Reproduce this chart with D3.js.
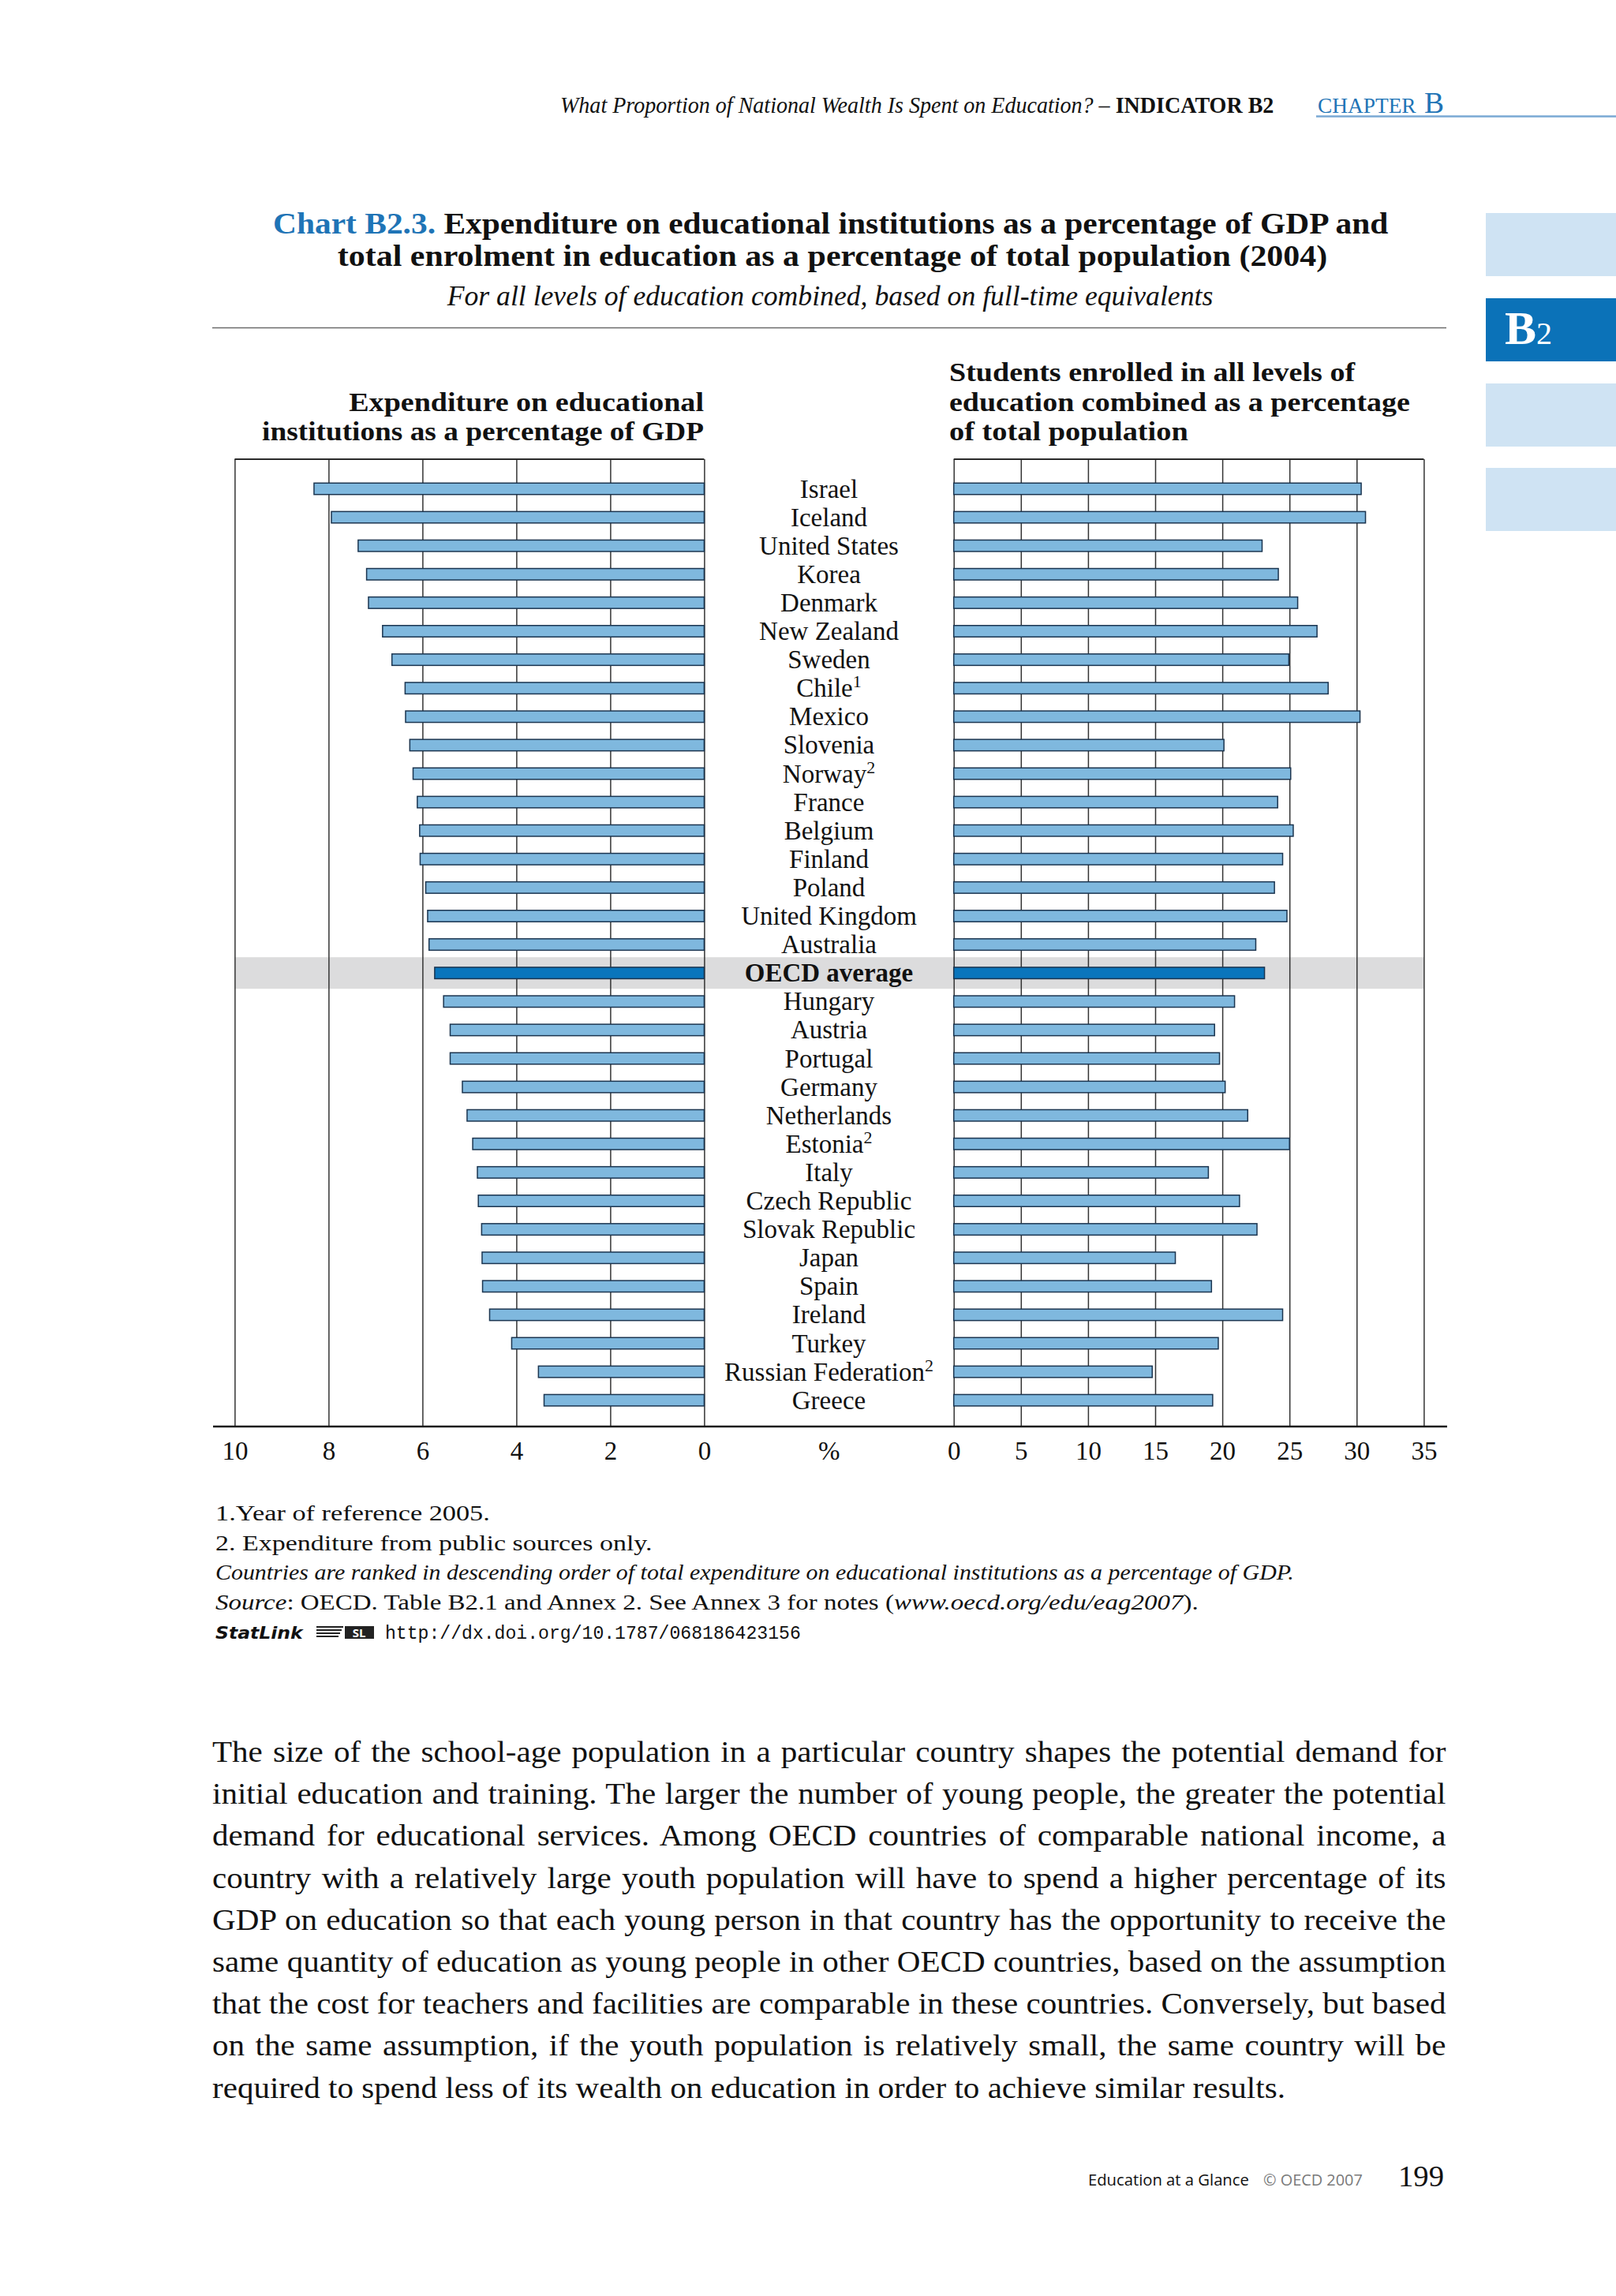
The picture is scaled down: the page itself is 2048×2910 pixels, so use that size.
<!DOCTYPE html>
<html>
<head>
<meta charset="utf-8">
<script src="https://cdn.jsdelivr.net/npm/d3@7"></script>
<style>
  html, body { margin: 0; padding: 0; background: #ffffff; }
  svg { display: block; }
</style>
</head>
<body>
<script>
// ---------------- DATA ----------------
const countries = ["Israel","Iceland","United States","Korea","Denmark","New Zealand","Sweden","Chile","Mexico","Slovenia","Norway","France","Belgium","Finland","Poland","United Kingdom","Australia","OECD average","Hungary","Austria","Portugal","Germany","Netherlands","Estonia","Italy","Czech Republic","Slovak Republic","Japan","Spain","Ireland","Turkey","Russian Federation","Greece"];
const noteMarks = ["","","","","","","","1","","","2","","","","","","","","","","","","","2","","","","","","","","2",""];
const expenditure = [8.31,7.94,7.37,7.19,7.15,6.85,6.65,6.37,6.36,6.27,6.20,6.11,6.06,6.05,5.93,5.89,5.86,5.74,5.55,5.41,5.41,5.15,5.05,4.93,4.83,4.81,4.74,4.73,4.72,4.57,4.10,3.53,3.41];
const enrolment = [30.34,30.66,22.96,24.17,25.61,27.05,24.95,27.88,30.25,20.12,25.09,24.12,25.28,24.49,23.88,24.81,22.49,23.14,20.91,19.42,19.79,20.21,21.89,25.00,18.96,21.28,22.58,16.50,19.19,24.49,19.70,14.78,19.28];
const leftTicks = [10,8,6,4,2,0];
const rightTicks = [0,5,10,15,20,25,30,35];
const highlight = "OECD average";

const headerText = "What Proportion of National Wealth Is Spent on Education? – ";
const headerIndicator = "INDICATOR B2";
const titleLead = "Chart B2.3.";
const titleLine1 = "Expenditure on educational institutions as a percentage of GDP and";
const titleLine2 = "total enrolment in education as a percentage of total population (2004)";
const subtitle = "For all levels of education combined, based on full-time equivalents";
const leftHeading = ["Expenditure on educational", "institutions as a percentage of GDP"];
const rightHeading = ["Students enrolled in all levels of", "education combined as a percentage", "of total population"];
const footnotes = ["1.Year of reference 2005.", "2. Expenditure from public sources only."];
const rankingNote = "Countries are ranked in descending order of total expenditure on educational institutions as a percentage of GDP.";
const statUrl = "http://dx.doi.org/10.1787/068186423156";
const bodyLines = [
  "The size of the school-age population in a particular country shapes the potential demand for",
  "initial education and training. The larger the number of young people, the greater the potential",
  "demand for educational services. Among OECD countries of comparable national income, a",
  "country with a relatively large youth population will have to spend a higher percentage of its",
  "GDP on education so that each young person in that country has the opportunity to receive the",
  "same quantity of education as young people in other OECD countries, based on the assumption",
  "that the cost for teachers and facilities are comparable in these countries. Conversely, but based",
  "on the same assumption, if the youth population is relatively small, the same country will be",
  "required to spend less of its wealth on education in order to achieve similar results."
];

// ---------------- SETUP ----------------
const W = 2048, H = 2910;
const SERIF = "'Liberation Serif', 'Times New Roman', serif";
const SANS = "'Open Sans', 'DejaVu Sans', sans-serif";
const MONO = "'Liberation Mono', 'DejaVu Sans Mono', monospace";
const BLUE = "#1f74b6";
const BAR = "#7fb8de";
const BAR_DARK = "#0a75bc";
const BAR_STROKE = "#1b3550";

const svg = d3.select("body").append("svg").attr("width", W).attr("height", H);
svg.append("rect").attr("width", W).attr("height", H).attr("fill", "#ffffff");

function txt(parent, o) {
  const t = parent.append("text").attr("x", o.x).attr("y", o.y)
    .attr("font-family", o.family || SERIF).attr("font-size", o.size)
    .attr("text-anchor", o.anchor || "start").attr("fill", o.fill || "#111");
  if (o.weight) t.attr("font-weight", o.weight);
  if (o.style) t.attr("font-style", o.style);
  (o.parts || [{t: o.text}]).forEach(p => {
    const s = t.append("tspan").text(p.t);
    if (p.style) s.attr("font-style", p.style);
    if (p.weight) s.attr("font-weight", p.weight);
    if (p.fill) s.attr("fill", p.fill);
    if (p.size) s.attr("font-size", p.size);
    if (p.family) s.attr("font-family", p.family);
    if (p.dy) s.attr("dy", p.dy);
  });
  if (o.width) {
    const w = t.node().getBBox().width;
    if (w > 0) {
      const k = o.width / w;
      t.attr("transform", `translate(${o.x},0) scale(${k},1) translate(${-o.x},0)`);
    }
  }
  return t;
}

// ---------------- PAGE HEADER ----------------
txt(svg, {x: 710, y: 143, size: 29, parts: [
  {t: headerText, style: "italic"},
  {t: headerIndicator, weight: "bold"}
], width: 905});
txt(svg, {x: 1670, y: 143, size: 28, fill: BLUE, text: "CHAPTER", width: 125});
txt(svg, {x: 1805, y: 143, size: 38, fill: BLUE, text: "B", width: 25});
svg.append("line").attr("x1", 1668).attr("x2", W).attr("y1", 147.5).attr("y2", 147.5)
  .attr("stroke", "#7aa9d4").attr("stroke-width", 2.5);

// side tabs
const tabs = [{y: 270, dark: false}, {y: 378, dark: true}, {y: 486, dark: false}, {y: 593, dark: false}];
svg.selectAll("rect.tab").data(tabs).join("rect").attr("class", "tab")
  .attr("x", 1883).attr("y", d => d.y).attr("width", W - 1883).attr("height", 80)
  .attr("fill", d => d.dark ? "#0b72b8" : "#cfe3f3");
txt(svg, {x: 1907, y: 436, size: 60, weight: "bold", fill: "#ffffff", parts: [
  {t: "B"}, {t: "2", weight: "normal", size: 40}
]});

// ---------------- TITLE ----------------
txt(svg, {x: 346, y: 296, size: 38, weight: "bold", parts: [
  {t: titleLead + " ", fill: BLUE},
  {t: titleLine1}
], width: 1414});
txt(svg, {x: 1055, y: 337, size: 38, weight: "bold", anchor: "middle", text: titleLine2, width: 1255});
txt(svg, {x: 1052, y: 387, size: 35, style: "italic", anchor: "middle", text: subtitle, width: 972});
svg.append("line").attr("x1", 269).attr("x2", 1833).attr("y1", 415.5).attr("y2", 415.5)
  .attr("stroke", "#6b6b6b").attr("stroke-width", 1.6);

// chart headings
txt(svg, {x: 892, y: 521, size: 34, weight: "bold", anchor: "end", text: leftHeading[0], width: 450});
txt(svg, {x: 892, y: 558, size: 34, weight: "bold", anchor: "end", text: leftHeading[1], width: 560});
txt(svg, {x: 1203, y: 483, size: 34, weight: "bold", text: rightHeading[0], width: 515});
txt(svg, {x: 1203, y: 521, size: 34, weight: "bold", text: rightHeading[1], width: 584});
txt(svg, {x: 1203, y: 558, size: 34, weight: "bold", text: rightHeading[2], width: 303});

// ---------------- CHART ----------------
const plotTop = 582, plotBottom = 1808;
const xLeft = d3.scaleLinear().domain([0, 10]).range([892.4, 297.4]);
const xRight = d3.scaleLinear().domain([0, 35]).range([1208.7, 1804.4]);
const y = d3.scalePoint().domain(countries).range([619.5, 1774.7]);
const barH = 14.5;
const rows = countries.map((c, i) => ({c, note: noteMarks[i], e: expenditure[i], s: enrolment[i]}));

// highlight band
svg.append("rect").attr("x", xLeft(10)).attr("width", xRight(35) - xLeft(10))
  .attr("y", y(highlight) - 20).attr("height", 40).attr("fill", "#dcdcdd");

// axes with gridlines
function styleAxis(g) {
  g.select(".domain").remove();
  g.selectAll(".tick line").attr("stroke", "#333").attr("stroke-width", 1.5);
  g.selectAll(".tick text").attr("font-family", SERIF).attr("font-size", 33).attr("fill", "#111");
}
svg.append("g").attr("transform", `translate(0,${plotBottom})`)
  .call(d3.axisBottom(xLeft).tickValues(leftTicks).tickSize(-(plotBottom - plotTop)).tickPadding(19).tickFormat(d3.format("d")))
  .call(styleAxis);
svg.append("g").attr("transform", `translate(0,${plotBottom})`)
  .call(d3.axisBottom(xRight).tickValues(rightTicks).tickSize(-(plotBottom - plotTop)).tickPadding(19).tickFormat(d3.format("d")))
  .call(styleAxis);

// top frame lines
svg.append("line").attr("x1", xLeft(10)).attr("x2", xLeft(0)).attr("y1", plotTop).attr("y2", plotTop)
  .attr("stroke", "#2a2a2a").attr("stroke-width", 2);
svg.append("line").attr("x1", xRight(0)).attr("x2", xRight(35)).attr("y1", plotTop).attr("y2", plotTop)
  .attr("stroke", "#2a2a2a").attr("stroke-width", 2);

// bars
svg.selectAll("rect.lbar").data(rows).join("rect").attr("class", "lbar")
  .attr("x", d => xLeft(d.e)).attr("width", d => xLeft(0) - xLeft(d.e))
  .attr("y", d => y(d.c) - barH / 2).attr("height", barH)
  .attr("fill", d => d.c === highlight ? BAR_DARK : BAR)
  .attr("stroke", BAR_STROKE).attr("stroke-width", 1.5);
svg.selectAll("rect.rbar").data(rows).join("rect").attr("class", "rbar")
  .attr("x", xRight(0)).attr("width", d => xRight(d.s) - xRight(0))
  .attr("y", d => y(d.c) - barH / 2).attr("height", barH)
  .attr("fill", d => d.c === highlight ? BAR_DARK : BAR)
  .attr("stroke", BAR_STROKE).attr("stroke-width", 1.5);

// country labels
const labelX = 1050.5;
rows.forEach(d => {
  const parts = [{t: d.c}];
  if (d.note) parts.push({t: d.note, size: 22, dy: -12});
  txt(svg, {x: labelX, y: y(d.c) + 11, size: 33, anchor: "middle",
    weight: d.c === highlight ? "bold" : null, parts});
});

// percent sign
txt(svg, {x: 1050.8, y: 1850, size: 33, anchor: "middle", text: "%"});

// bottom axis line
svg.append("line").attr("x1", 270).attr("x2", 1834).attr("y1", plotBottom).attr("y2", plotBottom)
  .attr("stroke", "#1a1a1a").attr("stroke-width", 2.5);

// ---------------- NOTES ----------------
txt(svg, {x: 273, y: 1927, size: 28, text: footnotes[0], width: 348});
txt(svg, {x: 273, y: 1965, size: 28, text: footnotes[1], width: 554});
txt(svg, {x: 273, y: 2002, size: 28, style: "italic", text: rankingNote, width: 1367});
txt(svg, {x: 273, y: 2040, size: 28, parts: [
  {t: "Source", style: "italic"},
  {t: ": OECD. Table B2.1 and Annex 2. See Annex 3 for notes ("},
  {t: "www.oecd.org/edu/eag2007", style: "italic"},
  {t: ")."}
], width: 1246});
txt(svg, {x: 273, y: 2077, size: 21, family: "'DejaVu Sans', sans-serif", weight: "bold", style: "italic", text: "StatLink", width: 113});
// StatLink icon
const icon = svg.append("g").attr("transform", "translate(401,2061)");
[0, 4, 8, 12].forEach((o, i) => {
  icon.append("rect").attr("x", 0).attr("y", o).attr("width", 34 - i * 2).attr("height", 2).attr("fill", "#222");
});
icon.append("rect").attr("x", 36).attr("y", 0).attr("width", 37).attr("height", 16).attr("fill", "#222");
icon.append("text").attr("x", 54).attr("y", 14).attr("text-anchor", "middle").attr("font-family", SANS)
  .attr("font-weight", "bold").attr("font-size", 15).attr("fill", "#fff").text("SL");
txt(svg, {x: 488, y: 2077, size: 23, family: MONO, text: statUrl, width: 527});

// ---------------- BODY TEXT ----------------
const bodyX = 269, bodyW = 1564, body0 = 2233, bodyLead = 53.2, bodySize = 38;
const bodyTexts = bodyLines.map((line, i) => svg.append("text").attr("x", bodyX).attr("y", body0 + i * bodyLead)
  .attr("font-family", SERIF).attr("font-size", bodySize).attr("fill", "#111").text(line));
const naturalW = bodyTexts.map(t => t.node().getComputedTextLength());
// common horizontal stretch so that justified lines need only modest extra word spacing
const ratios = naturalW.slice(0, -1).map(w => bodyW / w).sort((a, b) => a - b);
const stretch = Math.min(ratios[0], d3.median(ratios) * 0.985);
bodyTexts.forEach((t, i) => {
  t.attr("transform", `translate(${bodyX},0) scale(${stretch},1) translate(${-bodyX},0)`);
  if (i < bodyLines.length - 1) {
    const spaces = (bodyLines[i].match(/ /g) || []).length;
    t.attr("word-spacing", (bodyW / stretch - naturalW[i]) / spaces);
  }
});

// ---------------- FOOTER ----------------
txt(svg, {x: 1379, y: 2770, size: 20, family: SANS, fill: "#111", text: "Education at a Glance", width: 204});
txt(svg, {x: 1601, y: 2770, size: 20, family: SANS, fill: "#7a7a7a", text: "© OECD 2007", width: 126});
txt(svg, {x: 1772, y: 2771, size: 38, text: "199", width: 58});
</script>
</body>
</html>
